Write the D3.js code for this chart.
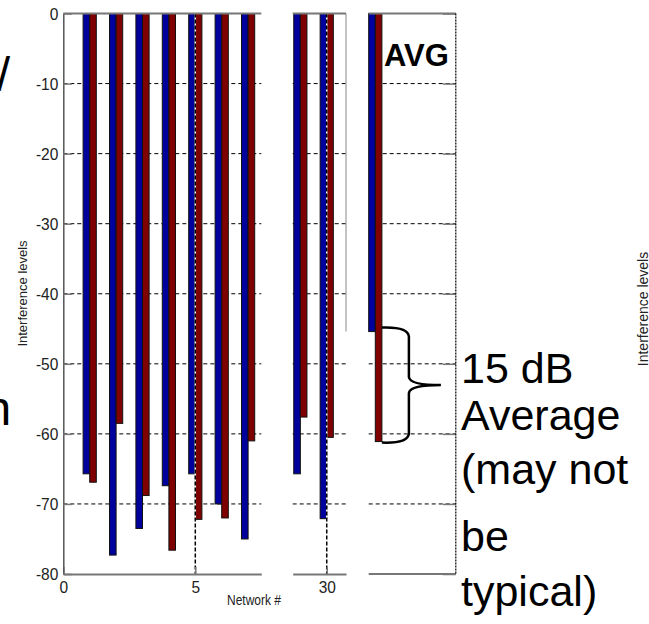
<!DOCTYPE html>
<html>
<head>
<meta charset="utf-8">
<script src="https://cdn.jsdelivr.net/npm/d3@7"></script>
<style>
body { margin: 0; background: #fff; }
text { font-family: "Liberation Sans", Arial, sans-serif; }
</style>
</head>
<body>
<svg id="chart" width="649" height="624"></svg>
<script>
'use strict';

// values (dB)
var networks = [1, 2, 3, 4, 5, 6, 7, 29, 30];
var levelBlue = [-65.7, -77.3, -73.5, -67.4, -65.7, -70.0, -75.0, -65.7, -72.1];
var levelRed = [-66.9, -58.5, -68.8, -76.6, -72.2, -72.0, -61.0, -57.6, -60.5];
var avgBlue = [-45.4];
var avgRed = [-61.1];
var yTicks = [0, -10, -20, -30, -40, -50, -60, -70, -80];
var xTicksLeft = [0, 5];
var xTicksMid = [30];
var noteLines = ['15 dB', 'Average', '(may not', 'be', 'typical)'];

var blue = '#00009c';
var red = '#7f0000';
var axisGray = '#777';
var barW = 0.25;

var svg = d3.select('#chart');
svg.append('rect').attr('width', 649).attr('height', 624).attr('fill', '#fff');

var y = d3.scaleLinear().domain([-80, 0]).range([574, 13.5]);

var rows = networks.map(function (n, i) {
	return { n: n, blue: levelBlue[i], red: levelRed[i] };
});

function hGrid(g, x0, x1) {
	g.append('g').selectAll('line')
		.data(yTicks.filter(function (d) { return d > -80 && d < 0; }))
		.join('line')
		.attr('x1', x0).attr('x2', x1)
		.attr('y1', function (d) { return y(d); })
		.attr('y2', function (d) { return y(d); })
		.attr('stroke', '#000')
		.attr('stroke-width', 1)
		.attr('stroke-dasharray', '4,3');
}

function drawBars(g, x, data) {
	g.append('g').selectAll('rect')
		.data(data)
		.join('rect')
		.attr('x', function (d) { return x(d.n - barW); })
		.attr('width', x(barW) - x(0))
		.attr('y', y(0))
		.attr('height', function (d) { return y(d.blue) - y(0); })
		.attr('fill', blue)
		.attr('stroke', '#111')
		.attr('stroke-width', 1);
	g.append('g').selectAll('rect')
		.data(data)
		.join('rect')
		.attr('x', function (d) { return x(d.n); })
		.attr('width', x(barW) - x(0))
		.attr('y', y(0))
		.attr('height', function (d) { return y(d.red) - y(0); })
		.attr('fill', red)
		.attr('stroke', '#111')
		.attr('stroke-width', 1);
}

function vGrid(g, x, ticks) {
	var vals = ticks.filter(function (d) { return x(d) > x.range()[0] + 1; });
	g.append('g').selectAll('line')
		.data(vals)
		.join('line')
		.attr('x1', function (d) { return x(d); })
		.attr('x2', function (d) { return x(d); })
		.attr('y1', y(0)).attr('y2', y(-80))
		.attr('stroke', '#fff')
		.attr('stroke-width', 1.5);
	g.append('g').selectAll('line')
		.data(vals)
		.join('line')
		.attr('x1', function (d) { return x(d); })
		.attr('x2', function (d) { return x(d); })
		.attr('y1', y(0)).attr('y2', y(-80))
		.attr('stroke', '#000')
		.attr('stroke-width', 1.5)
		.attr('stroke-dasharray', '4,2');
}

function styleAxis(a) {
	a.select('.domain').attr('stroke', axisGray).attr('stroke-width', 2);
	a.selectAll('.tick line').attr('stroke', axisGray).attr('stroke-width', 1.5);
	a.selectAll('.tick text')
		.attr('font-size', 15.5)
		.attr('fill', '#222')
		.attr('transform', 'scale(1,1.12)');
}

var panels = [
	{ domain: [0, 7.5], range: [63.3, 261.3], keep: function (n) { return n <= 7; }, ticks: xTicksLeft },
	{ domain: [28.71, 30.73], range: [292.7, 346], keep: function (n) { return n >= 29; }, ticks: xTicksMid }
];

panels.forEach(function (p, i) {
	var x = d3.scaleLinear().domain(p.domain).range(p.range);
	var g = svg.append('g');
	hGrid(g, p.range[0], p.range[1]);
	drawBars(g, x, rows.filter(function (d) { return p.keep(d.n); }));
	vGrid(g, x, p.ticks);

	g.append('line')
		.attr('x1', p.range[0]).attr('x2', p.range[1])
		.attr('y1', y(0)).attr('y2', y(0))
		.attr('stroke', axisGray).attr('stroke-width', 2);

	var ax = g.append('g')
		.attr('transform', 'translate(0,' + y(-80) + ')')
		.call(d3.axisBottom(x).tickValues(p.ticks).tickSizeInner(-7).tickSizeOuter(0).tickPadding(6)
			.tickFormat(function (d) { return String(d); }));
	styleAxis(ax);

	if (i === 0) {
		var ay = g.append('g')
			.attr('transform', 'translate(' + p.range[0] + ',0)')
			.call(d3.axisLeft(y).tickValues(yTicks).tickSizeInner(-8.5).tickSizeOuter(0).tickPadding(5)
				.tickFormat(function (d) { return String(d); }));
		styleAxis(ay);
		ay.select('.domain').attr('stroke', '#555').attr('stroke-width', 1.5);
	} else {
		// leftover frame edge of the middle panel
		g.append('line')
			.attr('x1', p.range[1]).attr('x2', p.range[1])
			.attr('y1', y(0)).attr('y2', y(avgBlue[0]))
			.attr('stroke', '#888').attr('stroke-width', 1);
	}
});

// AVG panel
var x3 = d3.scaleLinear().domain([0.75, 4.05]).range([368.7, 455.8]);
var g3 = svg.append('g');
hGrid(g3, 368.7, 455.8);
drawBars(g3, x3, [{ n: 1, blue: avgBlue[0], red: avgRed[0] }]);

g3.append('line')
	.attr('x1', 368.7).attr('x2', 455.8)
	.attr('y1', y(0)).attr('y2', y(0))
	.attr('stroke', axisGray).attr('stroke-width', 2);
g3.append('line')
	.attr('x1', 368.7).attr('x2', 455.8)
	.attr('y1', y(-80)).attr('y2', y(-80))
	.attr('stroke', axisGray).attr('stroke-width', 2);

var ar = g3.append('g')
	.attr('transform', 'translate(455.8,0)')
	.call(d3.axisRight(y).tickValues(yTicks).tickSizeInner(-13).tickSizeOuter(0).tickFormat(''));
ar.select('.domain').remove();
ar.selectAll('.tick line').attr('stroke', axisGray).attr('stroke-width', 1.5);

g3.append('line')
	.attr('x1', 455.8).attr('x2', 455.8)
	.attr('y1', y(0)).attr('y2', y(-80))
	.attr('stroke', '#000').attr('stroke-width', 1.2)
	.attr('stroke-dasharray', '2,1');

g3.append('text')
	.attr('x', 384).attr('y', 66)
	.attr('font-size', 31).attr('font-weight', 'bold')
	.text('AVG');

// brace between the two average bars
var bx = x3(1 + barW);
var yt = y(avgBlue[0]) - 4;
var yb = y(avgRed[0]) + 1;
var ym = (yt + yb) / 2;
var xs = bx + 27;
var xt = bx + 59;
g3.append('path')
	.attr('d', 'M' + bx + ',' + yt +
		' Q' + (xs - 1) + ',' + (yt - 1) + ' ' + xs + ',' + (yt + 9) +
		' L' + xs + ',' + (ym - 8) +
		' Q' + (xs + 1) + ',' + ym + ' ' + xt + ',' + ym +
		' Q' + (xs + 1) + ',' + ym + ' ' + xs + ',' + (ym + 8) +
		' L' + xs + ',' + (yb - 9) +
		' Q' + (xs - 1) + ',' + (yb + 1) + ' ' + bx + ',' + yb)
	.attr('fill', 'none')
	.attr('stroke', '#000')
	.attr('stroke-width', 2.5);

// axis titles
svg.append('text')
	.attr('transform', 'translate(27,293.5) rotate(-90)')
	.attr('text-anchor', 'middle')
	.attr('font-size', 13)
	.attr('fill', '#222')
	.text('Interference levels');

svg.append('text')
	.attr('transform', 'translate(254,605) scale(1,1.15)')
	.attr('text-anchor', 'middle')
	.attr('font-size', 12)
	.attr('fill', '#222')
	.text('Network #');

// cut-off pieces of the surrounding slide
svg.append('text')
	.attr('transform', 'translate(648,309) rotate(-90)')
	.attr('text-anchor', 'middle')
	.attr('font-size', 14)
	.attr('fill', '#222')
	.text('Interference levels');
svg.append('text').attr('x', -3.3).attr('y', 91).attr('font-size', 48).text('/');
svg.append('text').attr('x', -15.5).attr('y', 425).attr('font-size', 48).text('n');

// note beside the brace
var noteBase = [383, 430, 484, 551, 606];
svg.append('g').selectAll('text')
	.data(noteLines)
	.join('text')
	.attr('x', 461)
	.attr('y', function (d, i) { return noteBase[i]; })
	.attr('font-size', 43)
	.text(function (d) { return d; });
</script>
</body>
</html>
